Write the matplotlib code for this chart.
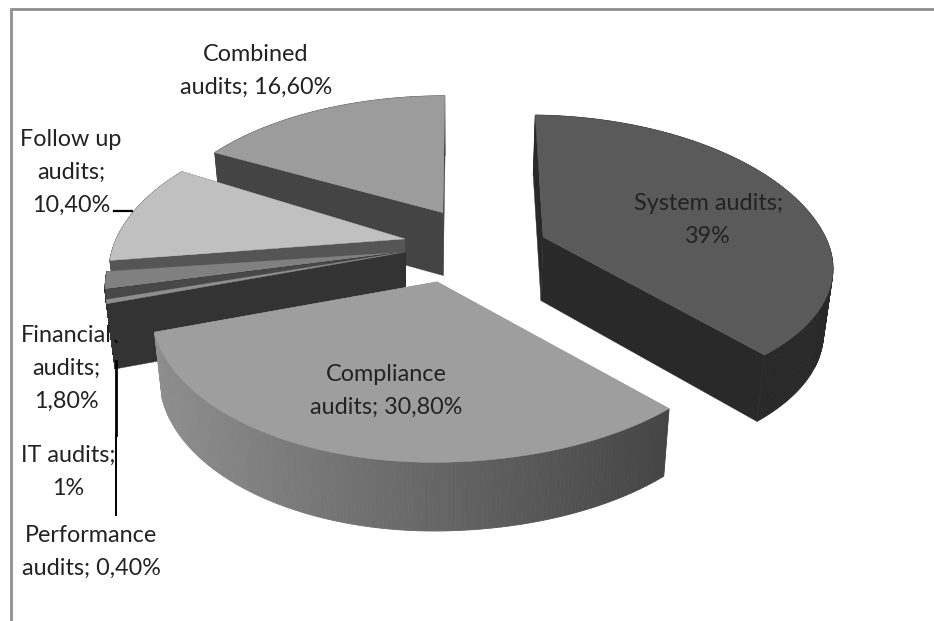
import numpy as np
import matplotlib
matplotlib.use("Agg")
import matplotlib.pyplot as plt
from matplotlib.patches import Polygon

# ---- data ----
categories = ["System audits", "Compliance audits", "Performance audits", "IT audits",
              "Financial audits", "Follow up audits", "Combined audits"]
values = [39.0, 30.8, 0.4, 1.0, 1.8, 10.4, 16.6]
value_labels = ["39%", "30,80%", "0,40%", "1%", "1,80%", "10,40%", "16,60%"]

# ---- style ----
top_colors = ["#5a5a5a", "#9e9e9e", "#8e8e8e", "#484848", "#808080", "#c0c0c0", "#9c9c9c"]
wall_colors = ["#292929", "#8a8a8a", "#333333", "#222222", "#444444", "#555555", "#444444"]
explode_xy = [(0.317, 0.131), (-0.061, -0.169), (-0.176, 0.027), (-0.176, 0.027),
              (-0.176, 0.027), (-0.18, 0.118), (-0.045, 0.31)]
# shape factors of each slice's rim: left, right, front, back
rim_shape = [(1.0, 1.015, 0.94, 1.03), (0.95, 1.03, 0.932, 1.0), (1.03, 1.03, 1.03, 1.03),
             (1.03, 1.03, 1.03, 1.03), (1.03, 1.03, 1.03, 1.03),
             (1.035, 1.035, 1.035, 1.035), (1.05, 1.05, 1.05, 1.05)]
# small correction, in degrees, of the angle where each slice starts
start_shift = [-1.5, 2.4, 0, 0, 0, 1.0, 2.2]
draw_order = [6, 5, 4, 3, 2, 0, 1]
start_angle = 90.0
CX, CY, R, Q, K = 455.0, 256.0, 285.0, 0.52, 0.19
DEPTH, SHRINK = 64.0, 0.975

fig = plt.figure(figsize=(9.34, 6.21), dpi=100, facecolor="white")
ax = fig.add_axes([0, 0, 1, 1])
ax.set_xlim(0, 934)
ax.set_ylim(621, 0)
ax.axis("off")


def project(x, y, bottom=False):
    x, y = np.asarray(x, float), np.asarray(y, float)
    f = 1 / (1 + K * y)
    sx = R * x * f
    sy = -R * Q * y * f
    if bottom:
        return CX + sx * SHRINK, CY + sy + DEPTH * f ** 0.3
    return CX + sx, CY + sy


def lerp_gray(a, b, t):
    v = a + (b - a) * t
    return (v, v, v)


angles = start_angle - np.cumsum([0] + values) * 3.6
for i in draw_order:
    a0 = np.radians(angles[i] + start_shift[i])
    a1 = np.radians(angles[i + 1])
    th = np.linspace(a0, a1, 160)
    ox, oy = explode_xy[i]
    sl, sr, sf, sb = rim_shape[i]
    c, s = np.cos(th), np.sin(th)
    ax_ = c * np.where(c < 0, sl, sr) + ox
    ay_ = s * np.where(s < 0, sf, sb) + oy
    tx, ty = project(ax_, ay_)
    bx, by = project(ax_, ay_, bottom=True)
    apx, apy = project(ox, oy)
    abx, aby = project(ox, oy, bottom=True)
    # radial walls
    for k in (0, -1):
        ax.add_patch(Polygon([(apx, apy), (tx[k], ty[k]), (bx[k], by[k]), (abx, aby)],
                             closed=True, fc=wall_colors[i], ec=wall_colors[i], lw=0.3))
    # outer wall, drawn in strips
    for j in range(len(th) - 1):
        if categories[i].startswith("Compliance"):
            t = np.clip((tx[j] - 150) / 520, 0, 1)
            col = lerp_gray(0.56, 0.27, t)
        else:
            col = wall_colors[i]
        ax.add_patch(Polygon([(tx[j], ty[j]), (tx[j + 1], ty[j + 1]), (bx[j + 1], by[j + 1]), (bx[j], by[j])],
                             closed=True, fc=col, ec=col, lw=0.6))
    # top face
    ax.add_patch(Polygon(np.column_stack([np.r_[apx, tx], np.r_[apy, ty]]),
                         closed=True, fc=top_colors[i], ec=top_colors[i], lw=0.3))

# frame
ax.plot([11, 11, 934], [621, 9, 9], color="#8f8f8f", lw=2.0, solid_joinstyle="miter")

# leader lines
ax.plot([114, 132], [211, 211], color="black", lw=1.6)
ax.plot([115.5, 115.5], [361, 435], color="black", lw=2.0)
ax.plot([115.5, 115.5], [435, 515], color="black", lw=1.4)
ax.plot([115.5, 116.5], [341, 342], color="black", lw=1.2)

FONT = "Lato"
FS = 16.8


def lab(x, y, idx, wrap):
    txt = wrap.format(n=categories[idx], v=value_labels[idx])
    ax.text(x, y, txt, ha="center", va="center", family=FONT, fontsize=FS,
            color="#222222", linespacing=1.7)


lab(256, 71, 6, "Combined\naudits; {v}")
lab(71, 172, 5, "Follow up\naudits;\n{v}")
lab(708, 220, 0, "System audits;\n{v}")
lab(386, 391, 1, "Compliance\naudits; {v}")
lab(66, 368, 4, "Financial\naudits;\n{v}")
lab(68, 472, 3, "IT audits;\n{v}")
lab(91, 552, 2, "Performance\naudits; {v}")

fig.savefig("out.png", dpi=100)
